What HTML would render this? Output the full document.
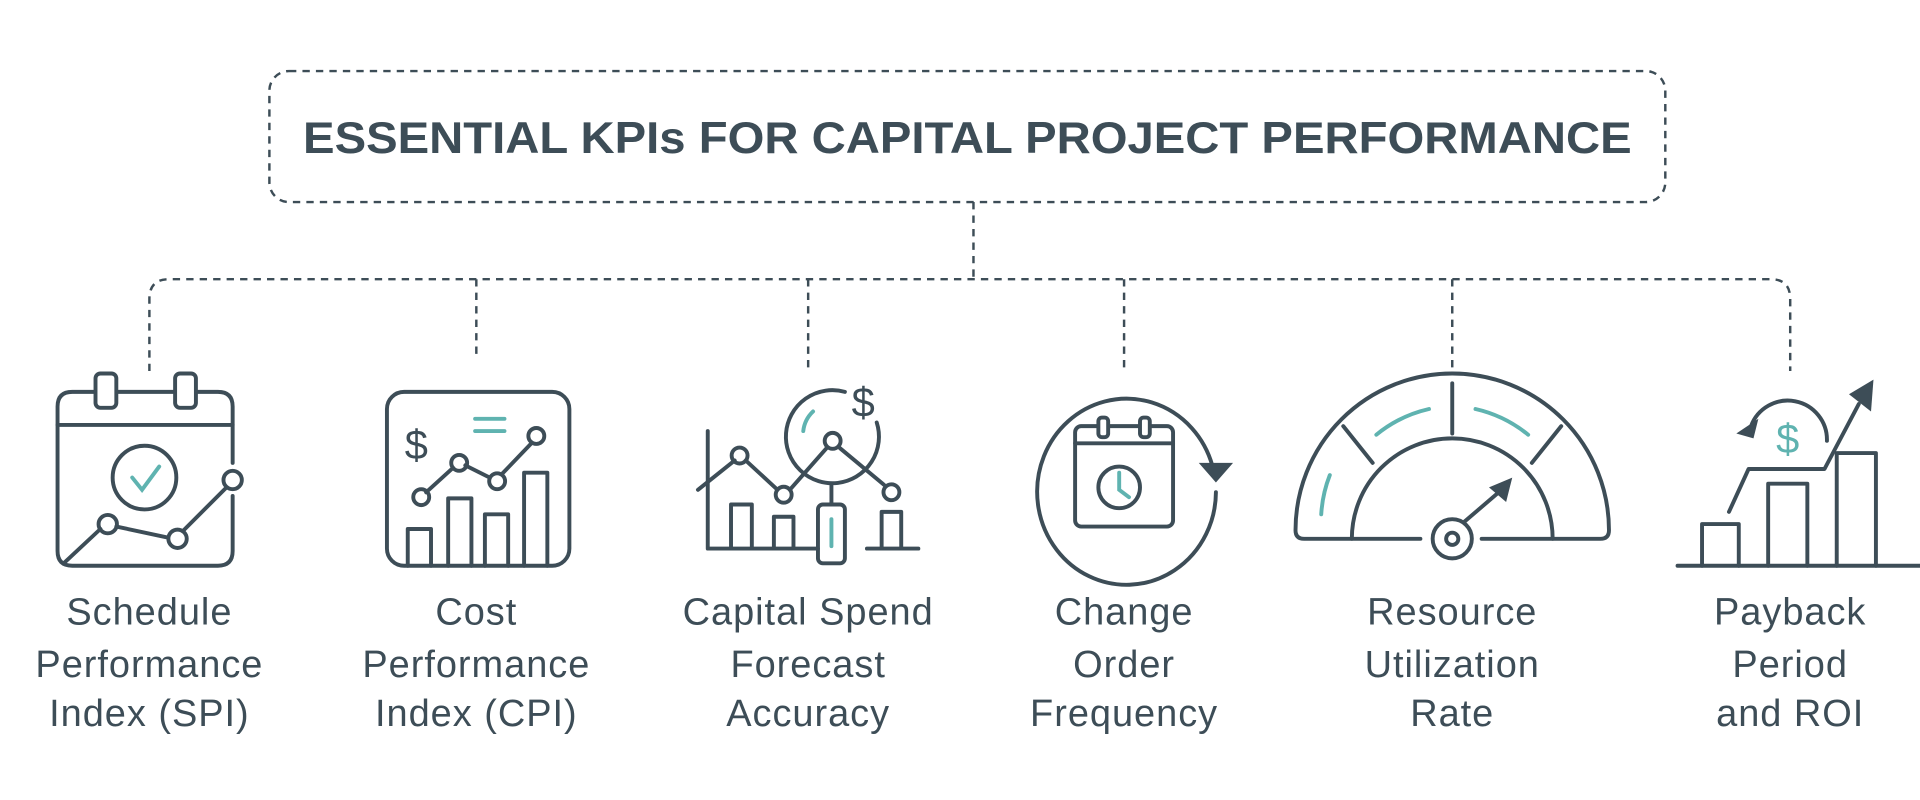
<!DOCTYPE html>
<html><head><meta charset="utf-8"><style>
html,body{margin:0;padding:0;background:#fff;width:1920px;height:800px;overflow:hidden}
svg{display:block}
text{font-family:"Liberation Sans",sans-serif;fill:#3d4d57}
</style></head><body>
<svg width="1920" height="800" viewBox="0 0 1568 653.3" xmlns="http://www.w3.org/2000/svg">
<g fill="none" stroke="#3d4d57" stroke-width="2" stroke-dasharray="6 5">
<rect x="220" y="58" width="1140" height="107" rx="16"/>
<path d="M795 165V228"/>
<path d="M122 303V244Q122 228 138 228H1446Q1462 228 1462 244V303"/>
<path d="M389 228V292M660 228V302M918 228V300M1186 228V303"/>
</g>
<text x="790" y="125" text-anchor="middle" font-size="36" font-weight="700" textLength="1085" lengthAdjust="spacingAndGlyphs">ESSENTIAL KPIs FOR CAPITAL PROJECT PERFORMANCE</text>
<g font-size="31" text-anchor="middle" letter-spacing="0.8">
<text x="122" y="510">Schedule</text><text x="122" y="553">Performance</text><text x="122" y="593">Index (SPI)</text>
<text x="389" y="510">Cost</text><text x="389" y="553">Performance</text><text x="389" y="593">Index (CPI)</text>
<text x="660" y="510">Capital Spend</text><text x="660" y="553">Forecast</text><text x="660" y="593">Accuracy</text>
<text x="918" y="510">Change</text><text x="918" y="553">Order</text><text x="918" y="593">Frequency</text>
<text x="1186" y="510">Resource</text><text x="1186" y="553">Utilization</text><text x="1186" y="593">Rate</text>
<text x="1462" y="510">Payback</text><text x="1462" y="553">Period</text><text x="1462" y="593">and ROI</text>
</g>
<g fill="none" stroke="#3d4d57" stroke-width="3.2" stroke-linecap="round" stroke-linejoin="round">
<!-- icon1 -->
<path d="M190 378V332Q190 320 178 320H59Q47 320 47 332V450Q47 462 59 462H178Q190 462 190 450V405"/>
<path d="M47 347H190"/>
<rect x="78" y="305" width="17" height="28" rx="4" fill="#fff"/><rect x="143" y="305" width="17" height="28" rx="4" fill="#fff"/>
<circle cx="118" cy="390" r="26"/>
<path d="M52 460L82 432M95 430L137 439M150 433L185 398"/>
<circle cx="88" cy="428" r="7.5"/><circle cx="145" cy="440" r="7.5"/><circle cx="190" cy="392" r="7.5"/>
<!-- icon2 -->
<rect x="316" y="320" width="149" height="142" rx="14"/>
<path d="M333 462V432H352V462M366 462V407H385V462M396 462V420H415V462M428 462V386H447V462"/>
<path d="M348 402L370 382M380 380L400 390M410 387L434 362"/>
<circle cx="344" cy="406" r="6.5"/><circle cx="375" cy="378" r="6.5"/><circle cx="406" cy="393" r="6.5"/><circle cx="438" cy="356" r="6.5"/>
<!-- icon3 -->
<path d="M578 352V448H668M708 448H750"/>
<path d="M597 448V412H614V448M632 448V422H648V448M720 448V418H736V448"/>
<path d="M570 400L600 376M609 376L635 400M645 400L675 366M686 366L722 396"/>
<circle cx="604" cy="372" r="6.5"/><circle cx="640" cy="404" r="6.5"/><circle cx="680" cy="360" r="6.5"/><circle cx="728" cy="402" r="6.5"/>
<path d="M690 320A38 38 0 1 0 716 345"/>
<path d="M679 396V412"/>
<rect x="668" y="412" width="22" height="48" rx="4"/>
<!-- icon4 -->
<path d="M990 380A73 76 0 1 0 993 402"/>
<rect x="878" y="348" width="80" height="82" rx="5"/><path d="M878 362H958"/>
<rect x="897" y="341" width="8" height="16" rx="3" fill="#fff"/><rect x="931" y="341" width="8" height="16" rx="3" fill="#fff"/>
<circle cx="914" cy="398" r="17"/>
<!-- icon5 -->
<path d="M1160 440H1065Q1058 440 1058 433A128 128 0 0 1 1314 433Q1314 440 1307 440H1210"/>
<path d="M1104 440A82 82 0 0 1 1268 440"/>
<circle cx="1186" cy="440" r="16"/><circle cx="1186" cy="440" r="5"/>
<path d="M1186 313V354M1097 348L1121 378M1275 348L1251 378M1196 426L1224 402"/>
<!-- icon6 -->
<path d="M1370 462H1568"/>
<path d="M1390 462V428H1420V462M1444 462V395H1476V462M1500 462V370H1532V462"/>
<path d="M1412 418L1428 383H1490L1518 330"/>
<path d="M1430 348A32 32 0 0 1 1492 360"/>
</g>
<g fill="#3d4d57">
<text x="340" y="375" font-size="34" text-anchor="middle">$</text>
<text x="705" y="340" font-size="34" text-anchor="middle">$</text>
<path d="M979 378L1007 378L993 394Z"/>
<path d="M1235 390L1216 398L1230 410Z"/>
<path d="M1530 310L1510 322L1528 336Z"/>
<path d="M1418 354L1436 342L1432 358Z"/>
</g>
<g fill="none" stroke="#5fb3b0" stroke-width="3.2" stroke-linecap="round">
<path d="M108 390L116 400L130 381"/>
<path d="M388 342H412M388 352H412"/>
<path d="M656 352A26 26 0 0 1 664 336"/>
<path d="M679 424V446"/>
<path d="M914 386V400L922 406"/>
<path d="M1124 355A105 105 0 0 1 1167 334M1205 334A105 105 0 0 1 1248 355M1086 388A105 105 0 0 0 1079 420"/>
</g>
<text x="1460" y="370" font-size="34" text-anchor="middle" style="fill:#5fb3b0">$</text>
</svg>
</body></html>
